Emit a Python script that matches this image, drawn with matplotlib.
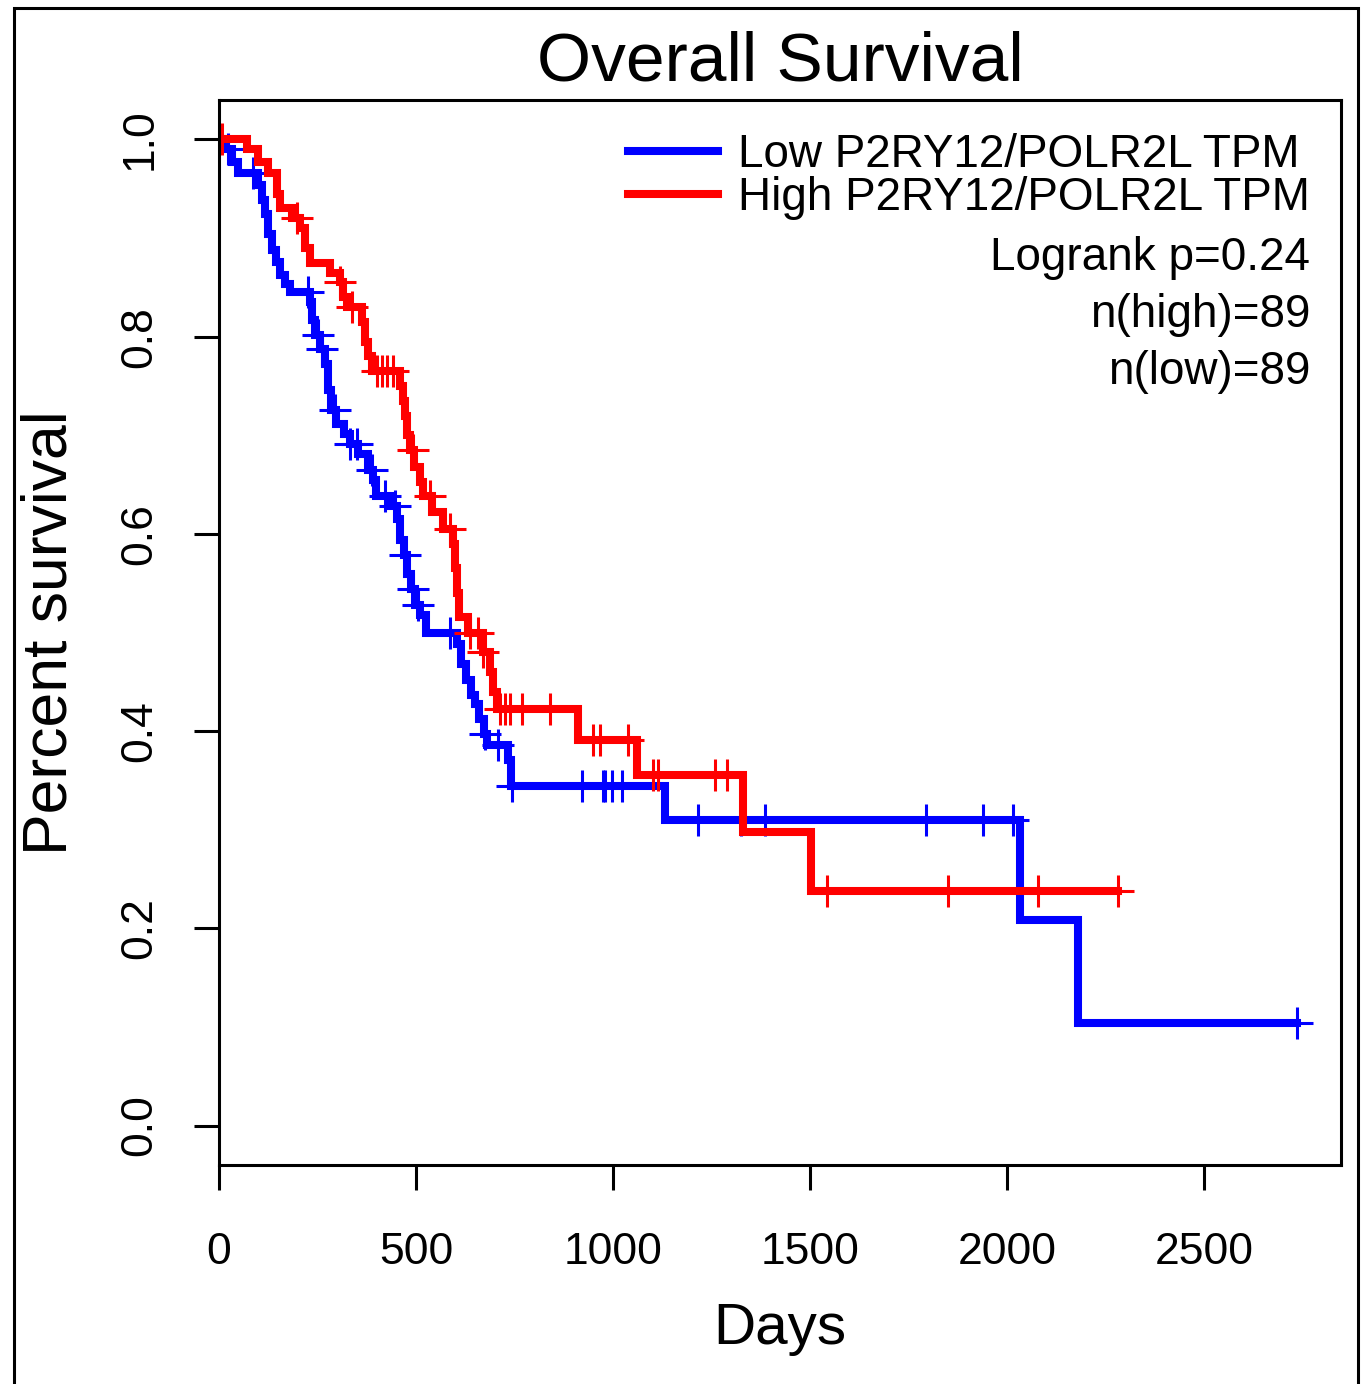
import numpy as np
import matplotlib
matplotlib.use("Agg")
import matplotlib.pyplot as plt
from matplotlib.lines import Line2D
from matplotlib.patches import Rectangle

plt.rcParams['font.family'] = ['Liberation Sans', 'DejaVu Sans']

# Kaplan-Meier steps (days, survival after the drop)
low_times = [18, 33, 48, 99, 109, 117, 124, 135, 145, 155, 168, 180, 231, 236, 244,
             256, 269, 277, 284, 297, 317, 332, 353, 378, 391, 398, 434, 452, 459,
             470, 477, 487, 497, 510, 525, 604, 614, 627, 640, 650, 660, 673, 680,
             733, 741, 1132, 2033, 2180]
low_surv = [0.990, 0.977, 0.966, 0.954, 0.939, 0.924, 0.904, 0.888, 0.876, 0.863,
            0.853, 0.845, 0.835, 0.817, 0.802, 0.787, 0.772, 0.746, 0.726, 0.711,
            0.701, 0.691, 0.681, 0.665, 0.655, 0.638, 0.628, 0.615, 0.594, 0.579,
            0.559, 0.544, 0.528, 0.518, 0.500, 0.488, 0.468, 0.452, 0.437, 0.427,
            0.412, 0.397, 0.386, 0.371, 0.344, 0.310, 0.208, 0.104]
low_censor = [23, 86, 226, 251, 261, 294, 332, 350, 388, 421, 447, 472, 492, 505, 586,
              675, 708, 744, 921, 975, 980, 997, 1023, 1216, 1325, 1386, 1794, 1939,
              2015, 2736]

high_times = [71, 99, 124, 147, 155, 185, 206, 218, 231, 282, 307, 315, 325, 363, 371,
              378, 388, 459, 467, 472, 477, 485, 495, 510, 518, 541, 569, 594, 599,
              604, 609, 632, 670, 688, 695, 706, 911, 1061, 1330, 1503]
high_surv = [0.990, 0.977, 0.966, 0.945, 0.930, 0.920, 0.910, 0.890, 0.875, 0.865,
             0.855, 0.840, 0.830, 0.815, 0.795, 0.780, 0.765, 0.750, 0.735, 0.720,
             0.700, 0.685, 0.668, 0.653, 0.638, 0.622, 0.605, 0.590, 0.565, 0.540,
             0.516, 0.500, 0.480, 0.460, 0.440, 0.422, 0.391, 0.356, 0.298, 0.238]
high_censor = [8, 198, 307, 338, 401, 414, 426, 442, 492, 536, 586, 637, 657, 670, 713,
               726, 739, 769, 840, 949, 967, 1038, 1102, 1114, 1259, 1289, 1543, 1850,
               2079, 2282]

labels = ["Low P2RY12/POLR2L TPM", "High P2RY12/POLR2L TPM"]
colors = ["#0000FF", "#FF0000"]
stats = ["Logrank p=0.24", "n(high)=89", "n(low)=89"]
xticks = [0, 500, 1000, 1500, 2000, 2500]
yticks = [0.0, 0.2, 0.4, 0.6, 0.8, 1.0]


def km_curve(times, surv, censor):
    t = np.concatenate([[0], times, [max(censor)]])
    s = np.concatenate([[1.0], surv, [surv[-1]]])
    idx = np.searchsorted(np.array(t), np.array(censor), side='right') - 1
    return t, s, np.array(censor), s[idx]


fig = plt.figure(figsize=(13.72, 13.84), dpi=100)
ax = fig.add_axes([219 / 1372, 1 - 1165 / 1384, 1122 / 1372, 1065 / 1384])

groups = [(low_times, low_surv, low_censor), (high_times, high_surv, high_censor)]
for (tm, sv, cs), col in zip(groups, colors):
    t, s, ct, cy = km_curve(tm, sv, cs)
    ax.step(t, s, where='post', color=col, lw=5.8, solid_joinstyle='miter')
    ax.plot(ct, cy, linestyle='none', marker='+', markersize=23, mew=2.2, color=col)

ax.set_xlim(0, 2848)
ax.set_ylim(-0.04, 1.04)
ax.set_xticks(xticks)
ax.set_xticklabels([str(v) for v in xticks])
ax.set_yticks(yticks)
ax.set_yticklabels(["%.1f" % v for v in yticks], rotation=90, va='center')
ax.tick_params(axis='both', length=18, width=2.2, labelsize=32)
ax.tick_params(axis='x', pad=30)
ax.tick_params(axis='y', pad=24)
for sp in ax.spines.values():
    sp.set_linewidth(2.2)

ax.set_title("Overall Survival", fontsize=50, pad=14)
ax.set_xlabel("Days", fontsize=42)
ax.xaxis.set_label_coords(0.5, -0.129)
ax.set_ylabel("Percent survival", fontsize=45)
ax.yaxis.set_label_coords(-0.124, 0.5)

handles = [Line2D([], [], color=c, lw=5.8) for c in colors]
ax.legend(handles, labels, loc='upper left', bbox_to_anchor=(0.3645, 0.969),
          frameon=False, fontsize=33, handlelength=1.96, handletextpad=0.43,
          labelspacing=-0.03, borderpad=0, borderaxespad=0)

for i, txt in enumerate(stats):
    ax.text(0.9724, 0.8516 - i * 0.0535, txt, transform=ax.transAxes,
            ha='right', va='center', fontsize=33)

# outer frame around the whole picture
fig.patches.append(Rectangle((14 / 1372, -0.02), 1344 / 1372, 1.02 - 8 / 1384,
                             transform=fig.transFigure, fill=False,
                             lw=2.2, edgecolor='black'))

fig.savefig("out.png", dpi=100)
